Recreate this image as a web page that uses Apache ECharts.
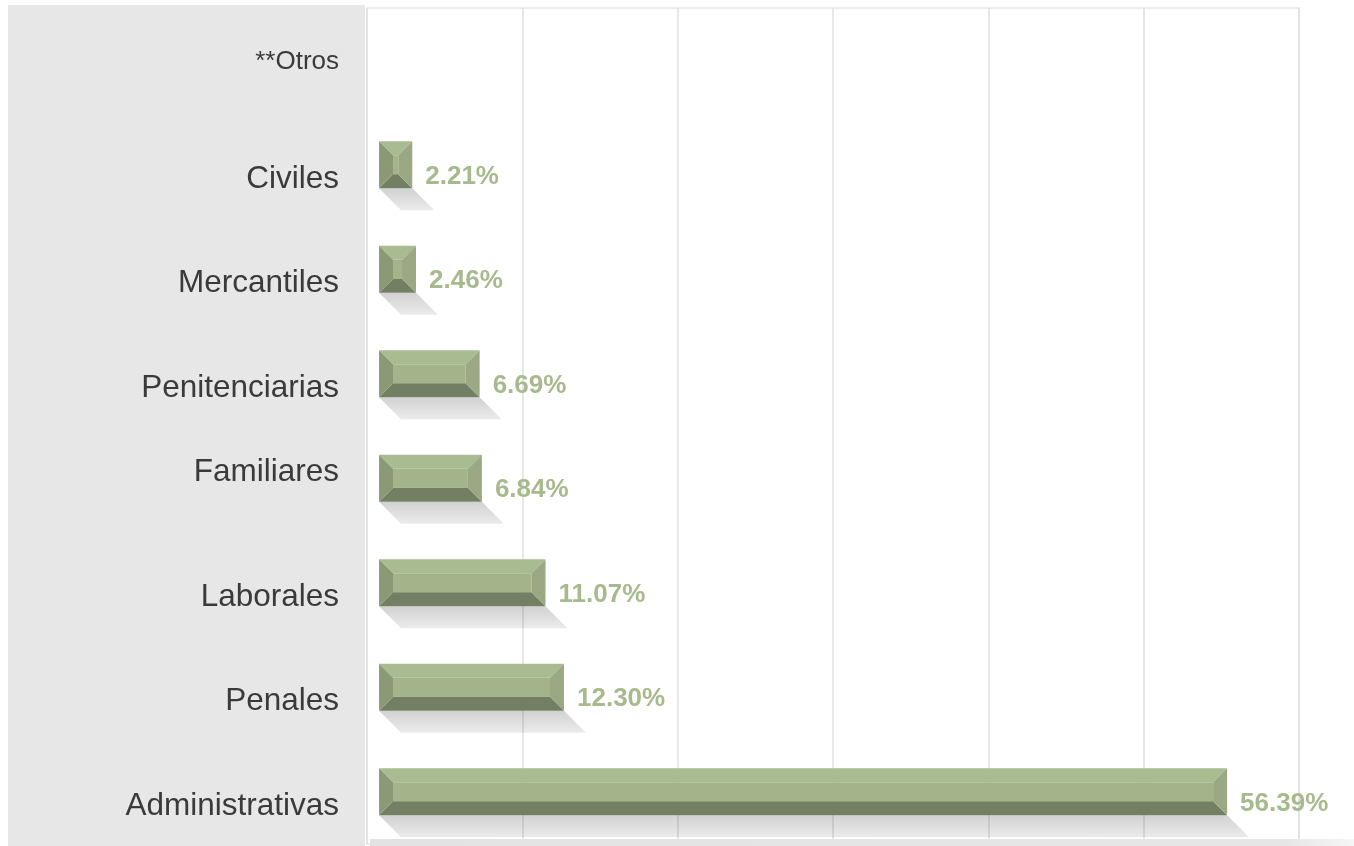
<!DOCTYPE html>
<html>
<head>
<meta charset="utf-8">
<script src="https://cdn.jsdelivr.net/npm/echarts@6/dist/echarts.min.js"></script>
<style>
html,body{margin:0;padding:0;background:#fff;}
#chart{width:1354px;height:846px;}
</style>
</head>
<body>
<div id="chart"></div>
<script>
// Categories top to bottom
var categories = ['**Otros', 'Civiles', 'Mercantiles', 'Penitenciarias', 'Familiares', 'Laborales', 'Penales', 'Administrativas'];
// Percent values (Otros has no bar)
var values = [null, 2.21, 2.46, 6.69, 6.84, 11.07, 12.30, 56.39];
// Gridline axis range (percent)
var xMin = 0, xMax = 60, xInterval = 10;

var FONT = "'Liberation Sans', Arial, sans-serif";

var seriesData = values.map(function (v, i) { return [v == null ? NaN : v, i]; });

function renderItem(params, api) {
  var v = api.value(0);
  var idx = api.value(1);
  if (v == null || isNaN(v)) return { type: 'group', children: [] };
  var p0 = api.coord([0, idx]);
  var p1 = api.coord([v, idx]);
  var bh = api.size([0, 1])[1] * 0.45;
  var x0 = p0[0], x1 = p1[0];
  var yt = p0[1] - bh / 2, yb = p0[1] + bh / 2;
  var w = x1 - x0;
  var b = Math.min(14, w / 2, bh / 2);
  var d = 22;
  var children = [
    { type: 'polygon', shape: { points: [[x0, yb], [x1, yb], [x1 + d, yb + d], [x0 + d, yb + d]] },
      style: { fill: new echarts.graphic.LinearGradient(0, 0, 0, 1, [
        { offset: 0, color: 'rgba(0,0,0,0.18)' }, { offset: 1, color: 'rgba(0,0,0,0.08)' }]) } },
    { type: 'rect', shape: { x: x0 + b, y: yt + b, width: Math.max(0, w - 2 * b), height: Math.max(0, bh - 2 * b) },
      style: { fill: '#a3b48a' } },
    { type: 'polygon', shape: { points: [[x0, yt], [x1, yt], [x1 - b, yt + b], [x0 + b, yt + b]] },
      style: { fill: '#a9bb90' } },
    { type: 'polygon', shape: { points: [[x0, yb], [x1, yb], [x1 - b, yb - b], [x0 + b, yb - b]] },
      style: { fill: '#737f63' } },
    { type: 'polygon', shape: { points: [[x0, yt], [x0 + b, yt + b], [x0 + b, yb - b], [x0, yb]] },
      style: { fill: '#8b9977' } },
    { type: 'polygon', shape: { points: [[x1, yt], [x1 - b, yt + b], [x1 - b, yb - b], [x1, yb]] },
      style: { fill: '#9aa984' } },
    { type: 'text', x: x1 + 13, y: p0[1] + 12,
      style: { text: v.toFixed(2) + '%', fill: '#a7ba8d', font: 'bold 26px ' + FONT,
               textAlign: 'left', textVerticalAlign: 'middle' } }
  ];
  return { type: 'group', children: children };
}

var chart = echarts.init(document.getElementById('chart'), null, { renderer: 'canvas' });
chart.setOption({
  backgroundColor: '#ffffff',
  animation: false,
  graphic: [
    { type: 'rect', z: -10, silent: true, shape: { x: 8, y: 5, width: 357, height: 841 }, style: { fill: '#e6e7e6' } },
    { type: 'rect', z: 10, silent: true, shape: { x: 370, y: 839, width: 984, height: 7 },
      style: { fill: new echarts.graphic.LinearGradient(0, 0, 1, 0, [
        { offset: 0, color: '#e3e3e3' }, { offset: 0.93, color: '#e6e6e6' }, { offset: 1, color: '#f6f6f6' }]) } }
  ],
  grid: { left: 367, right: 55, top: 8, bottom: 2, show: true, borderColor: '#e6e6e6', borderWidth: 1.5, backgroundColor: 'transparent' },
  xAxis: [{
    type: 'value', min: xMin, max: xMax, interval: xInterval,
    axisLine: { show: false }, axisTick: { show: false }, axisLabel: { show: false },
    splitLine: { show: true, lineStyle: { color: '#e0e0e0', width: 1.5 } }
  }, {
    // bar scale: floor of the 3D bars sits slightly right of the plot edge
    type: 'value', min: -0.8, max: 61.17, show: false,
    splitLine: { show: false }
  }],
  yAxis: {
    type: 'category', inverse: true, data: categories,
    axisLine: { show: false }, axisTick: { show: false },
    axisLabel: {
      margin: 28,
      formatter: function (val) {
        if (val === '**Otros') return '{o|' + val + '}';
        if (val === 'Familiares') return '{f|' + val + '}';
        return '{n|' + val + '}';
      },
      rich: {
        n: { fontSize: 31.5, color: '#3a3a3a', fontFamily: FONT, padding: [29, 0, 0, 0] },
        f: { fontSize: 31.5, color: '#3a3a3a', fontFamily: FONT, padding: [0, 0, 12, 0] },
        o: { fontSize: 26, color: '#3a3a3a', fontFamily: FONT, padding: [3, 0, 0, 0] }
      }
    }
  },
  series: [{
    type: 'custom',
    xAxisIndex: 1,
    renderItem: renderItem,
    encode: { x: 0, y: 1 },
    data: seriesData,
    clip: false
  }]
});
</script>
</body>
</html>
